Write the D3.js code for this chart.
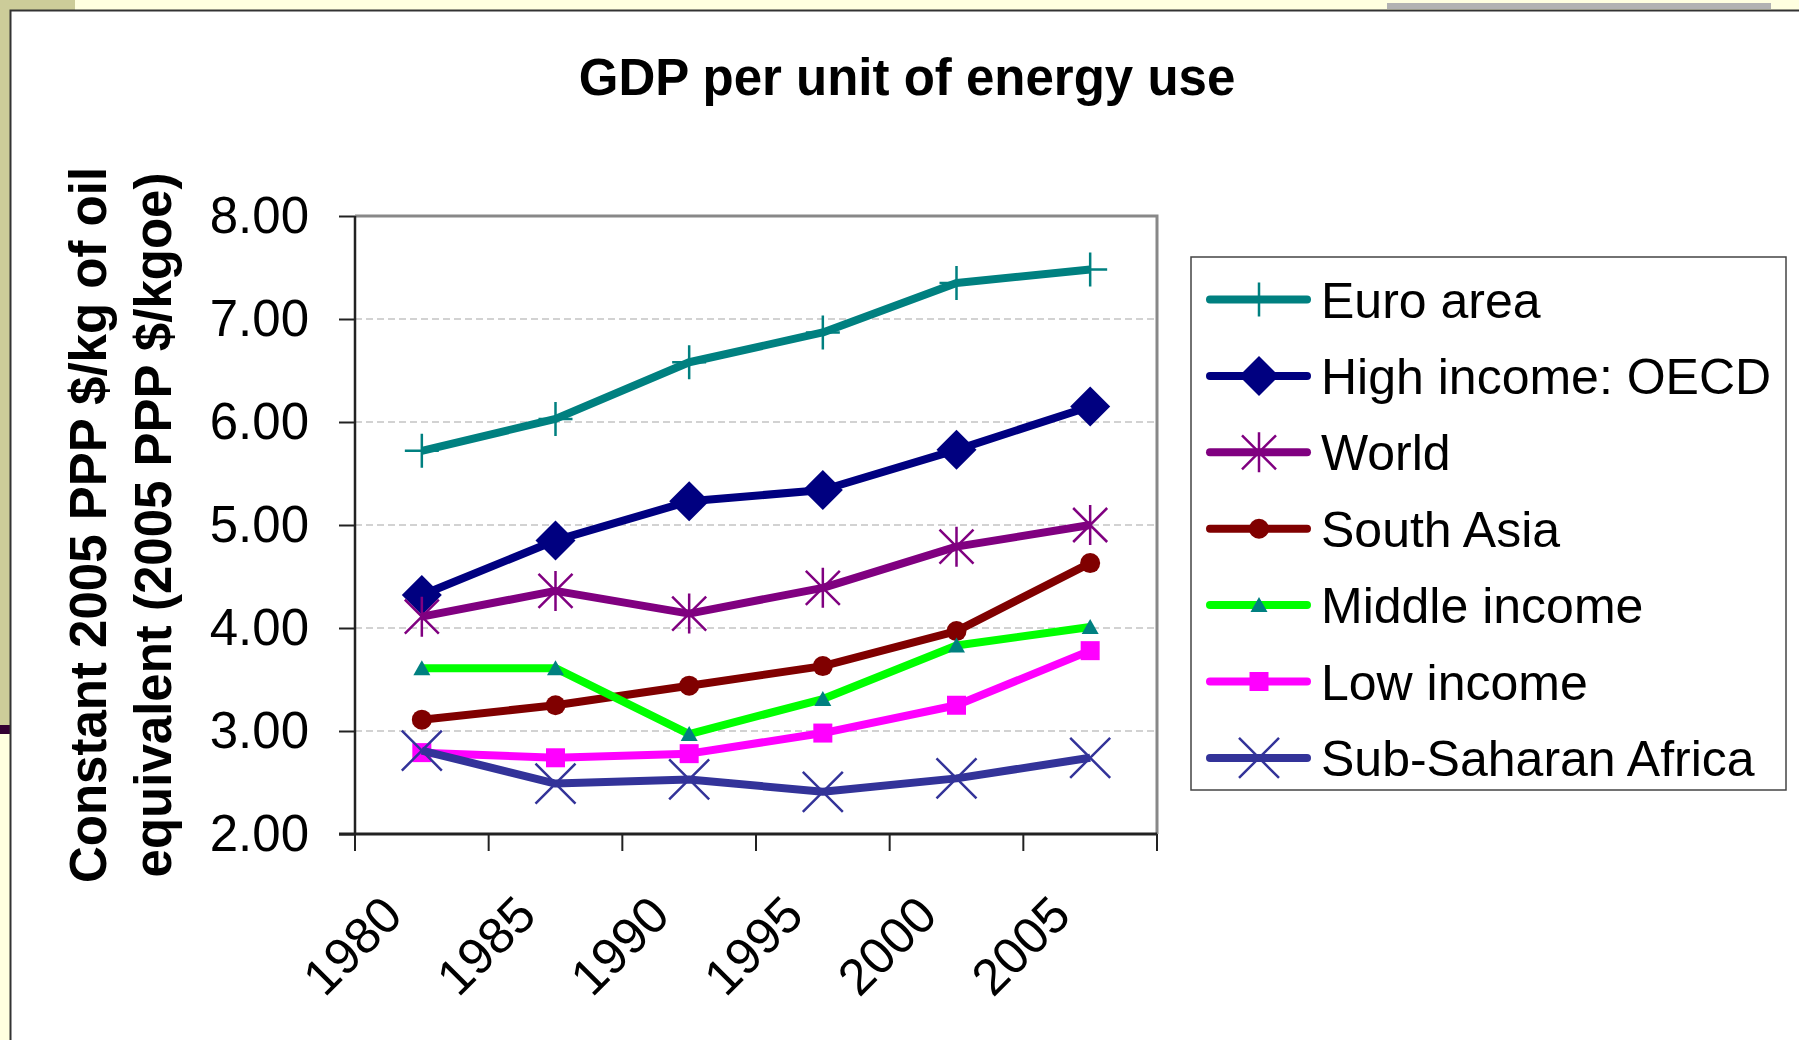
<!DOCTYPE html>
<html>
<head>
<meta charset="utf-8">
<title>GDP per unit of energy use</title>
<script src="https://cdn.jsdelivr.net/npm/d3@7"></script>
<style>
  body { margin: 0; background: #ffffe0; }
  svg { display: block; font-family: "Liberation Sans", Arial, sans-serif; }
</style>
</head>
<body>
<script>
// Values
var years = ["1980", "1985", "1990", "1995", "2000", "2005"];
var seriesNames = ["Euro area", "High income: OECD", "World", "South Asia",
  "Middle income", "Low income", "Sub-Saharan Africa"];
var euroArea         = [5.72, 6.03, 6.58, 6.87, 7.35, 7.48];
var highIncomeOECD   = [4.32, 4.85, 5.23, 5.34, 5.73, 6.15];
var world            = [4.11, 4.36, 4.14, 4.39, 4.79, 5.00];
var southAsia        = [3.11, 3.25, 3.44, 3.63, 3.97, 4.63];
var middleIncome     = [3.61, 3.61, 2.97, 3.31, 3.83, 4.01];
var lowIncome        = [2.79, 2.74, 2.78, 2.98, 3.25, 3.78];
var subSaharanAfrica = [2.81, 2.49, 2.53, 2.41, 2.54, 2.74];
var yTicks = [2, 3, 4, 5, 6, 7, 8];

var seriesValues = [euroArea, highIncomeOECD, world, southAsia, middleIncome, lowIncome, subSaharanAfrica];
var lineColors = ["#008080", "#000080", "#800080", "#800000", "#00ff00", "#ff00ff", "#333399"];
var markerColors = ["#008080", "#000080", "#800080", "#800000", "#008080", "#ff00ff", "#333399"];
var markerTypes = ["plus", "diamond", "star", "circle", "triangle", "square", "cross"];

var svgWidth = 1799;
var svgHeight = 1040;

var margin = {
  top: 216,
  right: 642,
  bottom: 206,
  left: 355
};

var width = svgWidth - margin.left - margin.right;
var height = svgHeight - margin.top - margin.bottom;

var svg = d3.select("body")
  .append("svg")
  .attr("width", svgWidth)
  .attr("height", svgHeight);

// slide decoration behind the chart
svg.append("rect").attr("width", svgWidth).attr("height", svgHeight).attr("fill", "#ffffe0");
svg.append("rect").attr("x", 0).attr("y", 0).attr("width", 75).attr("height", 10).attr("fill", "#cccc99");
svg.append("rect").attr("x", 0).attr("y", 0).attr("width", 10).attr("height", 725).attr("fill", "#cccc99");
svg.append("rect").attr("x", 0).attr("y", 725).attr("width", 10).attr("height", 9).attr("fill", "#330033");
svg.append("rect").attr("x", 1387).attr("y", 3).attr("width", 384).attr("height", 6).attr("fill", "#b2b2b2");
svg.append("rect").attr("x", 10).attr("y", 10).attr("width", svgWidth - 10).attr("height", svgHeight - 10).attr("fill", "#fff");
svg.append("path").attr("d", "M10.5," + svgHeight + "V10.5H" + svgWidth)
  .attr("fill", "none").attr("stroke", "#333").attr("stroke-width", 2);

var chartGroup = svg.append("g")
  .attr("transform", `translate(${margin.left}, ${margin.top})`);

var x = d3.scaleBand().domain(years).range([0, width]);
var y = d3.scaleLinear().domain([2, 8]).range([height, 0]);

// dashed gridlines
chartGroup.selectAll(".grid")
  .data(yTicks.slice(1, -1))
  .enter()
  .append("line")
  .attr("x1", 0)
  .attr("x2", width)
  .attr("y1", d => y(d))
  .attr("y2", d => y(d))
  .attr("stroke", "#c4c4c4")
  .attr("stroke-width", 1.5)
  .attr("stroke-dasharray", "7,4");

// plot frame (top and right)
chartGroup.append("path")
  .attr("d", `M0,${y(8)}H${width}V${height}`)
  .attr("fill", "none")
  .attr("stroke", "#888")
  .attr("stroke-width", 3);

// y axis
var yAxis = d3.axisLeft(y).tickValues(yTicks).tickFormat(d3.format(".2f")).tickSize(16).tickPadding(30);
var yAxisG = chartGroup.append("g").call(yAxis);
yAxisG.select(".domain").attr("stroke", "#222").attr("stroke-width", 2.5).attr("d", `M0,0V${height}`);
yAxisG.selectAll(".tick line").attr("stroke", "#222").attr("stroke-width", 2);
yAxisG.selectAll(".tick text")
  .attr("fill", "#000")
  .style("font-size", "51px");

// x axis: labels at category centres, tick marks on category edges
var xAxis = d3.axisBottom(x).tickSize(0);
var xAxisG = chartGroup.append("g")
  .attr("transform", `translate(0, ${height})`)
  .call(xAxis);
xAxisG.select(".domain").attr("stroke", "#222").attr("stroke-width", 3).attr("d", `M-16,0H${width}`);
xAxisG.selectAll(".tick text")
  .attr("fill", "#000")
  .attr("x", 0)
  .attr("y", 0)
  .attr("dy", 0)
  .attr("text-anchor", "end")
  .attr("transform", "translate(-17, 84) rotate(-45)")
  .style("font-size", "51px");

var edges = years.map(d => x(d)).concat([x(years[years.length - 1]) + x.step()]);
xAxisG.selectAll(".edge")
  .data(edges)
  .enter()
  .append("line")
  .attr("x1", d => d)
  .attr("x2", d => d)
  .attr("y1", 0)
  .attr("y2", 17)
  .attr("stroke", "#222")
  .attr("stroke-width", 2);

// marker shapes
function drawMarker(sel, type, color) {
  if (type == "plus") {
    sel.append("path").attr("d", "M-17,0H17M0,-17V17")
      .attr("stroke", color).attr("stroke-width", 2.5).attr("fill", "none");
  } else if (type == "diamond") {
    sel.append("path").attr("d", "M0,-20L20,0L0,20L-20,0Z").attr("fill", color);
  } else if (type == "star") {
    sel.append("path").attr("d", "M0,-20V20M-17,-17L17,17M-17,17L17,-17")
      .attr("stroke", color).attr("stroke-width", 2.5).attr("fill", "none");
  } else if (type == "circle") {
    sel.append("circle").attr("r", 10).attr("fill", color);
  } else if (type == "triangle") {
    sel.append("path").attr("d", "M0,-8L8.5,7H-8.5Z").attr("fill", color);
  } else if (type == "square") {
    sel.append("rect").attr("x", -9.5).attr("y", -9.5).attr("width", 19).attr("height", 19).attr("fill", color);
  } else if (type == "cross") {
    sel.append("path").attr("d", "M-20,-20L20,20M-20,20L20,-20")
      .attr("stroke", color).attr("stroke-width", 2.5).attr("fill", "none");
  }
}

var line = d3.line()
  .x((d, i) => x(years[i]) + x.bandwidth() / 2)
  .y(d => y(d));

seriesValues.forEach(function(values, s) {
  var g = chartGroup.append("g");
  g.append("path")
    .attr("d", line(values))
    .attr("fill", "none")
    .attr("stroke", lineColors[s])
    .attr("stroke-width", 8)
    .attr("stroke-linejoin", "round");
  g.selectAll(".pt")
    .data(values)
    .enter()
    .append("g")
    .attr("transform", (d, i) => `translate(${x(years[i]) + x.bandwidth() / 2}, ${y(d)})`)
    .each(function() {
      drawMarker(d3.select(this), markerTypes[s], markerColors[s]);
    });
});

// title
svg.append("text")
  .attr("x", 907)
  .attr("y", 95)
  .attr("text-anchor", "middle")
  .style("font-size", "51px")
  .style("font-weight", "bold")
  .text("GDP per unit of energy use");

// y axis title, two lines
var yTitle = svg.append("text")
  .attr("transform", "translate(106, 525) rotate(-90)")
  .attr("text-anchor", "middle")
  .style("font-size", "51px")
  .style("font-weight", "bold");
yTitle.append("tspan").attr("x", 0).attr("y", 0).text("Constant 2005 PPP $/kg of oil");
yTitle.append("tspan").attr("x", 0).attr("y", 65).text("equivalent (2005 PPP $/kgoe)");

// legend
var legend = svg.append("g").attr("transform", "translate(1191, 257)");
legend.append("rect")
  .attr("width", 595)
  .attr("height", 533)
  .attr("fill", "#fff")
  .attr("stroke", "#444")
  .attr("stroke-width", 1.5);

var legendItems = legend.selectAll(".item")
  .data(seriesNames)
  .enter()
  .append("g")
  .attr("transform", (d, i) => `translate(0, ${42.5 + i * 76.4})`);

legendItems.append("line")
  .attr("x1", 19)
  .attr("x2", 116)
  .attr("stroke", (d, i) => lineColors[i])
  .attr("stroke-width", 8)
  .attr("stroke-linecap", "round");

legendItems.each(function(d, i) {
  var m = d3.select(this).append("g").attr("transform", "translate(68, 0)");
  drawMarker(m, markerTypes[i], markerColors[i]);
});

legendItems.append("text")
  .attr("x", 130)
  .attr("dy", "0.36em")
  .style("font-size", "50px")
  .text(d => d);
</script>
</body>
</html>
